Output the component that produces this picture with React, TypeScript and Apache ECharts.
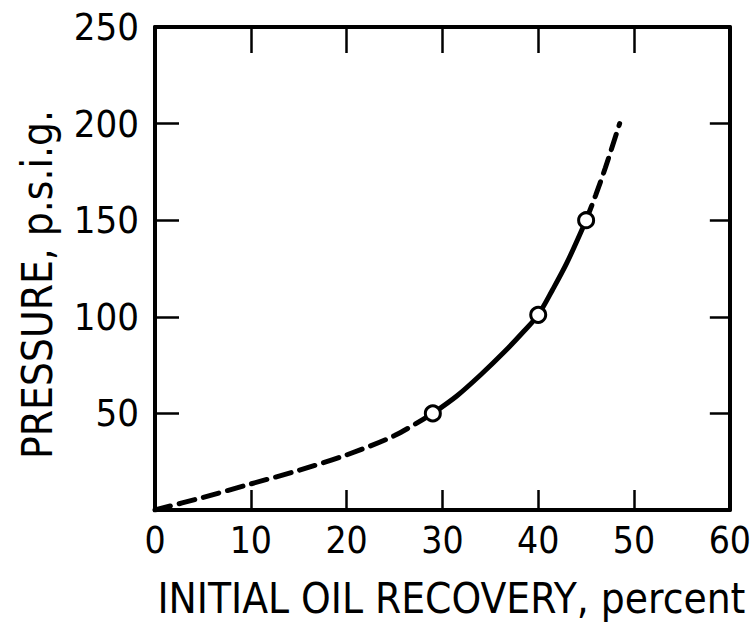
import React, { useEffect, useRef } from "react";
import * as echarts from "echarts";

// Initial oil recovery (percent) vs. pressure (p.s.i.g.)
const lowerDashed: [number, number][] = [
  [0, 0], [5, 6.5], [10, 13.5], [15, 20.5], [20, 28.5], [25, 38.5], [29, 50],
];
const solidPart: [number, number][] = [
  [29, 50], [31.5, 59], [34, 70], [36.5, 82], [38.5, 92.5], [40, 101],
  [41.5, 114], [43, 128], [45, 150],
];
const upperDashed: [number, number][] = [
  [45, 150], [46, 163], [47, 177], [48.5, 200],
];
const measured: [number, number][] = [
  [29, 50], [40, 101], [45, 150],
];
const xTicks = [0, 10, 20, 30, 40, 50, 60];
const yTicks = [0, 50, 100, 150, 200, 250];

const FONT = "DejaVu Sans Condensed";

export default function App() {
  const ref = useRef<HTMLDivElement>(null);

  useEffect(() => {
    document.body.style.margin = "0";
    if (!ref.current) return;
    const chart = echarts.init(ref.current, null, { renderer: "svg" });

    const axisLine = { show: true, onZero: false, lineStyle: { color: "#000", width: 4 } };
    const tick = (length: number) => ({
      show: true,
      inside: true,
      length,
      lineStyle: { color: "#000", width: 2.5 },
    });
    const lineSeries = (data: [number, number][], dashed: boolean) => ({
      type: "line",
      data,
      smooth: 0.3,
      symbol: "none",
      z: 2,
      lineStyle: {
        color: "#000",
        width: 5,
        type: dashed ? [16, 9] : "solid",
        cap: dashed ? "round" : "butt",
      },
    });

    chart.setOption({
      animation: false,
      backgroundColor: "#fff",
      grid: { left: 155, right: 19, top: 27, bottom: 115 },
      xAxis: [
        {
          type: "value",
          min: xTicks[0],
          max: xTicks[xTicks.length - 1],
          interval: 10,
          position: "bottom",
          axisLine,
          axisTick: tick(20),
          splitLine: { show: false },
          axisLabel: { color: "#000", fontFamily: FONT, fontSize: 37, margin: 12 },
          name: "INITIAL OIL RECOVERY, percent",
          nameLocation: "middle",
          nameGap: 67,
          nameTextStyle: { color: "#000", fontFamily: FONT, fontSize: 42, padding: [0, 0, 0, 18] },
        },
        {
          type: "value",
          min: xTicks[0],
          max: xTicks[xTicks.length - 1],
          interval: 10,
          position: "top",
          axisLine,
          axisTick: tick(26),
          splitLine: { show: false },
          axisLabel: { show: false },
        },
      ],
      yAxis: [
        {
          type: "value",
          min: yTicks[0],
          max: yTicks[yTicks.length - 1],
          interval: 50,
          position: "left",
          axisLine,
          axisTick: tick(24),
          splitLine: { show: false },
          axisLabel: {
            color: "#000",
            fontFamily: FONT,
            fontSize: 38,
            margin: 16,
            formatter: (v: number) => (v === 0 ? "" : String(v)),
          },
          name: "PRESSURE, p.s.i.g.",
          nameLocation: "middle",
          nameGap: 97,
          nameTextStyle: { color: "#000", fontFamily: FONT, fontSize: 42, padding: [0, 32, 0, 0] },
        },
        {
          type: "value",
          min: yTicks[0],
          max: yTicks[yTicks.length - 1],
          interval: 50,
          position: "right",
          axisLine,
          axisTick: tick(20),
          splitLine: { show: false },
          axisLabel: { show: false },
        },
      ],
      series: [
        lineSeries(lowerDashed, true),
        lineSeries(solidPart, false),
        lineSeries(upperDashed, true),
        {
          type: "scatter",
          data: measured,
          symbol: "circle",
          symbolSize: 15,
          z: 3,
          itemStyle: { color: "#fff", opacity: 1, borderColor: "#000", borderWidth: 3 },
        },
      ],
    });

    return () => chart.dispose();
  }, []);

  return <div ref={ref} style={{ width: 754, height: 625 }} />;
}
